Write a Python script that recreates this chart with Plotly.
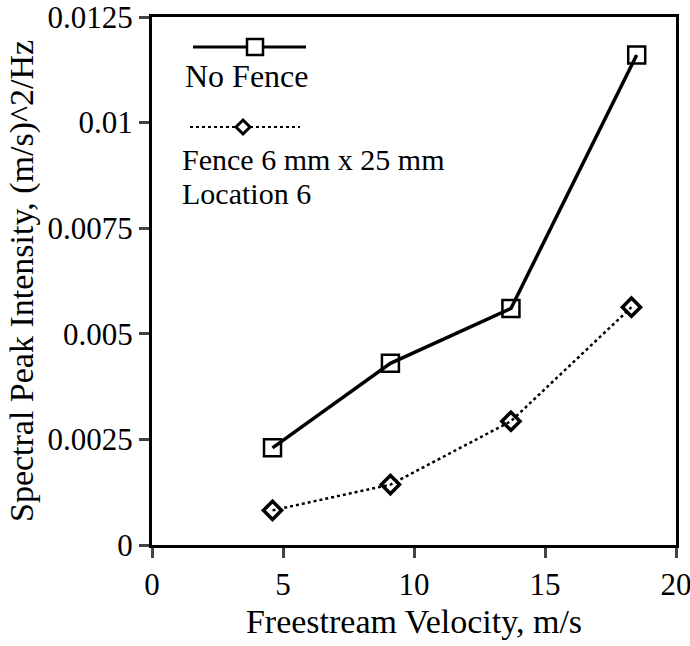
import plotly.graph_objects as go

velocity_nofence = [4.6, 9.1, 13.7, 18.5]
intensity_nofence = [0.0023, 0.0043, 0.0056, 0.0116]
velocity_fence = [4.6, 9.1, 13.7, 18.3]
intensity_fence = [0.00082, 0.00143, 0.00293, 0.00563]

x_ticks = [0, 5, 10, 15, 20]
y_ticks = [0, 0.0025, 0.005, 0.0075, 0.01, 0.0125]
y_tick_text = ["0", "0.0025", "0.005", "0.0075", "0.01", "0.0125"]

FONT = "Liberation Serif, Times New Roman, serif"

fig = go.Figure()
fig.add_trace(go.Scatter(
    x=velocity_nofence, y=intensity_nofence, mode="lines+markers",
    name="No Fence",
    line=dict(color="black", width=3.5),
    marker=dict(symbol="square-open", size=17, color="black", line=dict(width=2.5)),
))
fig.add_trace(go.Scatter(
    x=velocity_fence, y=intensity_fence, mode="lines+markers",
    name="Fence 6 mm x 25 mm Location 6",
    line=dict(color="black", width=2.5, dash="dot"),
    marker=dict(symbol="diamond-open", size=14, color="black", line=dict(width=3.5)),
))

# Legend drawn inside the plot (paper coordinates)
L, R, T, B = 152, 676, 17, 545
W, H = 690, 646
def px(x):
    return (x - L) / (R - L)
def py(y):
    return (B - y) / (B - T)

shapes = []
# No Fence sample
shapes.append(dict(type="line", xref="paper", yref="paper", x0=px(193), x1=px(306), y0=py(47), y1=py(47),
                   line=dict(color="black", width=3)))
shapes.append(dict(type="rect", xref="paper", yref="paper", x0=px(247), x1=px(263), y0=py(55), y1=py(39),
                   fillcolor="white", line=dict(color="black", width=2.5)))
# Fence sample
shapes.append(dict(type="line", xref="paper", yref="paper", x0=px(190), x1=px(300), y0=py(127), y1=py(127),
                   line=dict(color="black", width=2, dash="dot")))
cx, cy, d = 243, 127, 7
shapes.append(dict(type="path", xref="paper", yref="paper",
                   path=f"M {px(cx-d)} {py(cy)} L {px(cx)} {py(cy-d)} L {px(cx+d)} {py(cy)} L {px(cx)} {py(cy+d)} Z",
                   fillcolor="white", line=dict(color="black", width=3)))

annotations = [
    dict(text="No Fence", xref="paper", yref="paper", x=px(183), y=py(76), xanchor="left", yanchor="middle",
         showarrow=False, font=dict(family=FONT, size=32, color="black")),
    dict(text="Fence 6 mm x 25 mm", xref="paper", yref="paper", x=px(180), y=py(159), xanchor="left", yanchor="middle",
         showarrow=False, font=dict(family=FONT, size=30, color="black")),
    dict(text="Location 6", xref="paper", yref="paper", x=px(180), y=py(193), xanchor="left", yanchor="middle",
         showarrow=False, font=dict(family=FONT, size=30, color="black")),
]

fig.update_layout(
    width=W, height=H,
    margin=dict(l=L, r=W - R, t=T, b=H - B),
    paper_bgcolor="white", plot_bgcolor="white",
    showlegend=False,
    font=dict(family=FONT, size=30, color="black"),
    shapes=shapes, annotations=annotations,
)
fig.update_xaxes(
    range=[0, 20], tickvals=x_ticks, ticks="outside", ticklen=10, tickwidth=3,
    showline=True, linewidth=3, linecolor="black", mirror=True, showgrid=False, zeroline=False,
    tickfont=dict(family=FONT, size=31), ticklabeloverflow="allow", automargin=False,
    title=dict(text="Freestream Velocity, m/s", font=dict(family=FONT, size=34), standoff=8),
)
fig.update_yaxes(
    range=[0, 0.0125], tickvals=y_ticks, ticktext=y_tick_text, ticks="outside", ticklen=10, tickwidth=3,
    showline=True, linewidth=3, linecolor="black", mirror=True, showgrid=False, zeroline=False,
    tickfont=dict(family=FONT, size=31), ticklabeloverflow="allow", automargin=False,
    title=dict(text="Spectral Peak Intensity, (m/s)^2/Hz", font=dict(family=FONT, size=34), standoff=4),
)

fig.write_html("out.html")
